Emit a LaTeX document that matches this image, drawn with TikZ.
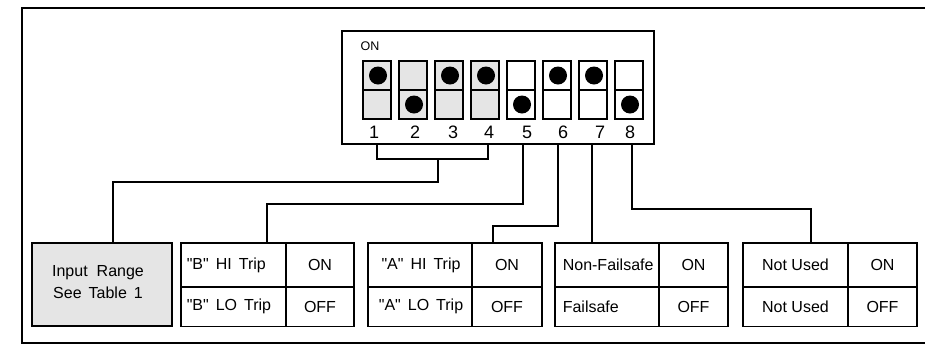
\documentclass[tikz,border=0pt]{standalone}
\usepackage{fontspec}
\setmainfont{Liberation Sans}[Ligatures=TeXOff]
\usepackage{xcolor}
\usepackage{tikz}
\definecolor{swgray}{gray}{0.9}
\newcommand{\wsp}{\hspace{7pt}}

\begin{document}
\begin{tikzpicture}[x=1pt,y=-1pt,line width=1.6pt,
  cell/.style={font=\fontsize{16}{19}\selectfont},
  num/.style={font=\fontsize{18}{21}\selectfont}]
\tikzstyle{every node}=[inner sep=0pt]
\useasboundingbox (0,0) rectangle (925,346);

% Draw outer frame
\draw[line width=2.2pt] (925,8) -- (22,8) -- (22,343) -- (925,343);

% Draw switch block
\draw (342,31) rectangle (654,144);
\node[font=\fontsize{12.5}{14}\selectfont] (onlbl) at (370,46) {ON};

% Draw switches (upper and lower halves)
\foreach \i/\c in {1/swgray, 2/swgray, 3/swgray, 4/swgray, 5/white, 6/white, 7/white, 8/white} {
    \draw[fill=\c] ({363+36*(\i-1)},61) rectangle ++(28,29);
    \draw[fill=\c] ({363+36*(\i-1)},90) rectangle ++(28,29);
}

% Draw switch positions
\foreach \i/\y in {1/75.5, 2/104.5, 3/75.5, 4/75.5, 5/104.5, 6/75.5, 7/75.5, 8/104.5} {
    \fill ({378+36*(\i-1)},\y) circle[radius=9pt];
}

% Switch numbers
\foreach \i/\x in {1/374, 2/415, 3/453, 4/489, 5/527, 6/563, 7/600, 8/630} {
    \node[num] (n\i) at (\x,132) {\i};
}

% Leg points under the switch block
\coordinate (leg1) at (377,144);
\coordinate (leg4) at (488,144);
\coordinate (leg5) at (523,144);
\coordinate (leg6) at (558,144);
\coordinate (leg7) at (592,144);
\coordinate (leg8) at (632,144);

% Draw input range box
\draw[fill=swgray] (32,243) rectangle (172,326);
\coordinate (in-top) at (113,243);
\node[cell] (inp1) at (98,273) {Input\hspace{9pt}Range};
\node[cell] (inp2) at (98,292.5) {See\hspace{7pt}Table\hspace{7pt}1};

% Draw setting tables
\foreach \l/\d/\r/\nm in {181/286/354/b, 368/472/542/a, 555/659/728/f, 743/848/917/n} {
    \draw (\l,243) rectangle (\r,326.5);
    \draw (\l,287) -- (\r,287);
    \draw (\d,243) -- (\d,326.5);
    \node[cell] (\nm-on) at ({(\d+\r)/2},265) {ON};
    \node[cell] (\nm-off) at ({(\d+\r)/2},306.5) {OFF};
}
\coordinate (b-top) at (267,243);
\coordinate (a-top) at (493,243);
\coordinate (f-top) at (592,243);
\coordinate (n-top) at (811,243);

% Add table labels
\node[cell, anchor=west] (b-hi) at (186,265) {"B"\wsp HI\wsp Trip};
\node[cell, anchor=west] (b-lo) at (186,306.5) {"B"\wsp LO\wsp Trip};
\node[cell] (a-hi) at (421,265) {"A"\wsp HI\wsp Trip};
\node[cell] (a-lo) at (421,306.5) {"A"\wsp LO\wsp Trip};
\node[cell, anchor=west] (f-hi) at (562,265) {Non-Failsafe};
\node[cell, anchor=west] (f-lo) at (562,306.5) {Failsafe};
\node[cell] (n-hi) at (795.5,265) {Not Used};
\node[cell] (n-lo) at (795.5,306.5) {Not Used};

% Draw connector lines
\draw (leg1) -- (377,159) -- (488,159) -- (leg4);
\draw (438,159) -- (438,182) -| (in-top);
\draw (leg5) -- (523,204) -| (b-top);
\draw (leg6) -- (558,226) -| (a-top);
\draw (leg7) -- (f-top);
\draw (leg8) -- (632,209) -| (n-top);

\end{tikzpicture}
\end{document}
